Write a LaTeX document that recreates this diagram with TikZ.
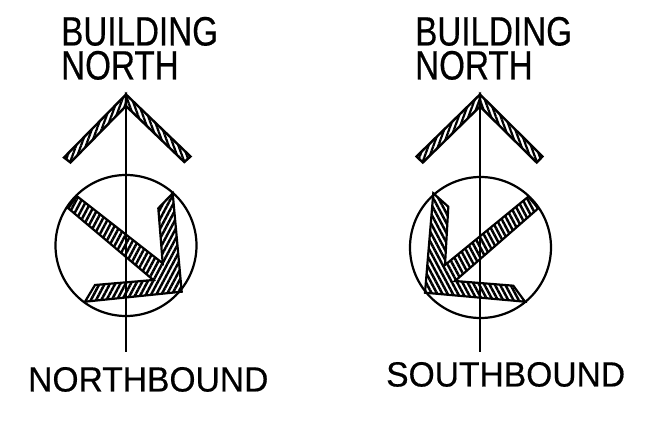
\documentclass[tikz,border=0pt]{standalone}
\usepackage{fontspec}
\newfontfamily\topfont[FakeStretch=0.81,FakeBold=0.4]{Liberation Sans}
\newfontfamily\boundfont[FakeStretch=0.96,FakeBold=0.4]{Liberation Sans}
\usetikzlibrary{patterns.meta,positioning}
\tikzset{
  top text/.style={font=\topfont\fontsize{41}{41}\selectfont,anchor=base west,inner sep=0pt},
  bound text/.style={font=\boundfont\fontsize{35}{35}\selectfont,anchor=base west,inner sep=0pt},
  hatch up/.style={draw,line width=2.2pt,line join=miter,pattern={Lines[angle=62,distance=4.6pt,line width=2.5pt]}},
  hatch down/.style={draw,line width=2.2pt,line join=miter,pattern={Lines[angle=-62,distance=4.6pt,line width=2.5pt]}},
  chevron up/.style={draw,line width=2.4pt,line join=miter,pattern={Lines[angle=70,distance=4.6pt,line width=2.2pt]}},
  chevron down/.style={draw,line width=2.4pt,line join=miter,pattern={Lines[angle=-70,distance=4.6pt,line width=2.2pt]}},
  dial/.style={draw,circle,line width=2.2pt,minimum size=141pt,inner sep=0pt}
}
\begin{document}
\begin{tikzpicture}[x=1pt,y=-1pt]
\useasboundingbox (0,0) rectangle (654,422);
% left symbol
\node[top text] (bldgL) at (61,45.5) {BUILDING};
\node[top text] (northL) at (61,79.5) {NORTH};
\path[chevron up] (64,157.5) -- (126,94.5) -- (126,106) -- (70.5,162.5) -- cycle;
\path[chevron down] (126,94.5) -- (190.5,156.5) -- (184.3,162) -- (126,106) -- cycle;
\node[dial] (circL) at (126,245.5) {};
\path[hatch up] (76.7,196) -- (68.3,208.3) -- (153.3,280) -- (95,285) -- (85,301.7) -- (181.7,291.7) -- (172.7,193.3) -- (158.3,208.3) -- (162.7,263.3) -- cycle;
\coordinate (topL) at (126,93);
\coordinate (endL) at (126,352);
\draw[line width=2.2pt] (topL) -- (endL);
\node[bound text] (boundL) at (28,391.5) {NORTHBOUND};
% right symbol
\node[top text] (bldgR) at (415,45.5) {BUILDING};
\node[top text] (northR) at (415,79.5) {NORTH};
\path[chevron up] (416.5,156.5) -- (480,94.5) -- (480,106.5) -- (422.8,162.5) -- cycle;
\path[chevron down] (480,94.5) -- (542.5,156.5) -- (536.7,162.5) -- (480,106.5) -- cycle;
\node[dial] (circR) at (480.5,247.5) {};
\path[hatch down] (528.3,196.7) -- (538.3,208.3) -- (455,281) -- (513.3,285.7) -- (525,301.7) -- (425,292.7) -- (433.3,193.3) -- (448.3,206.7) -- (445,265) -- cycle;
\coordinate (topR) at (480,93);
\coordinate (endR) at (480,352);
\draw[line width=2.2pt] (topR) -- (endR);
\node[bound text] (boundR) at (386,386.5) {SOUTHBOUND};
\end{tikzpicture}
\end{document}
